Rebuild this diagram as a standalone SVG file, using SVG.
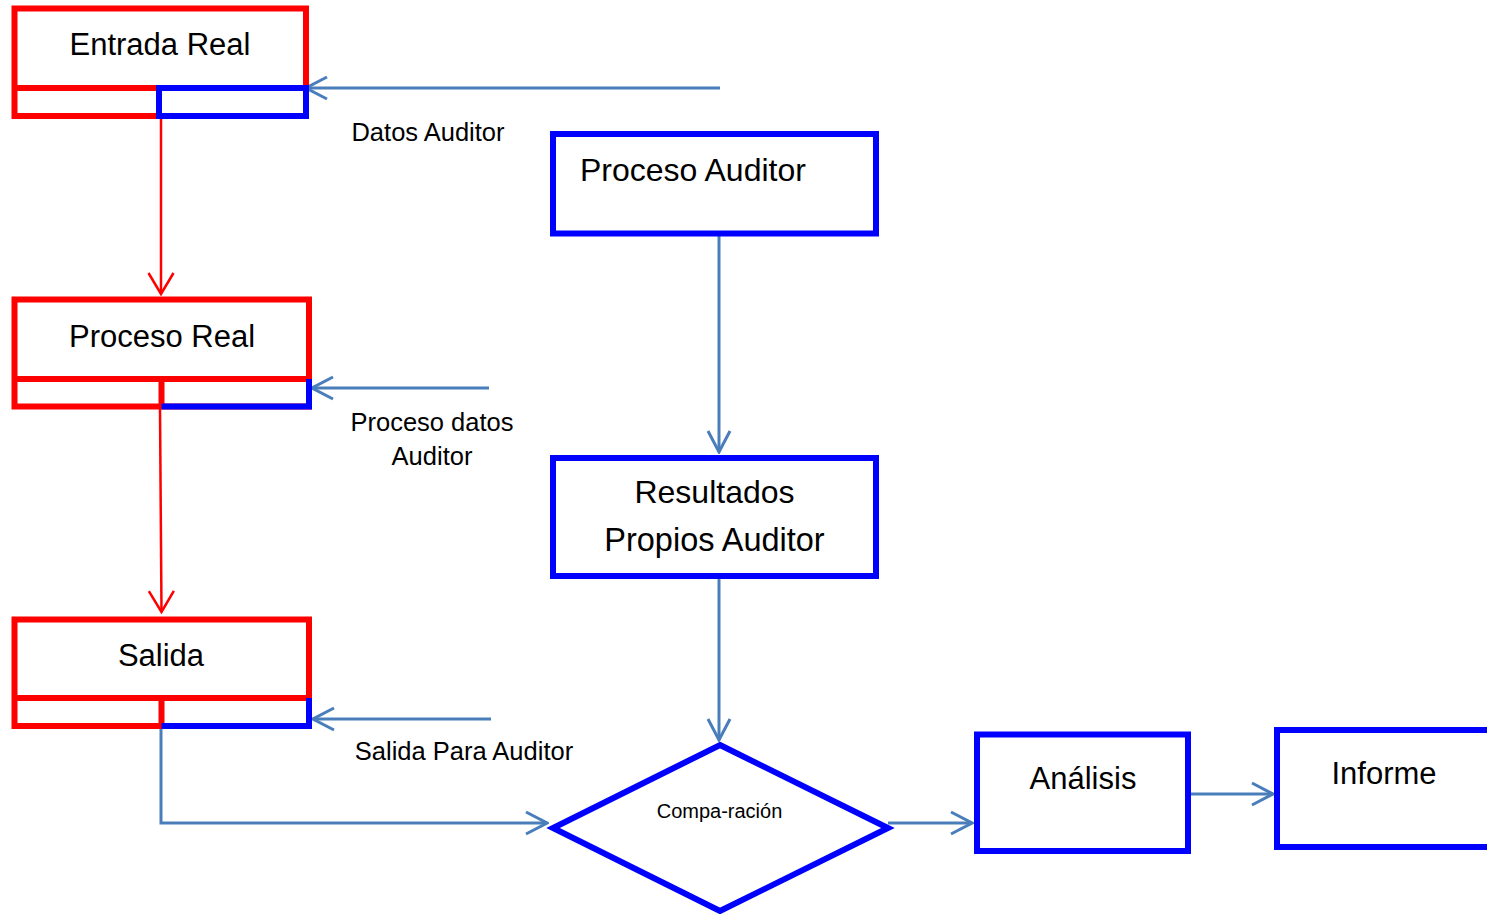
<svg xmlns="http://www.w3.org/2000/svg" width="1487" height="914" viewBox="0 0 1487 914">
<style>
.red{fill:none;stroke:#FF0000;stroke-width:6}
.blue{fill:none;stroke:#0000FF;stroke-width:6}
.bluefill{fill:#FFFFFF;stroke:#0000FF;stroke-width:6}
.con{fill:none;stroke:#4A7EBB;stroke-width:3}
.rcon{fill:none;stroke:#FF0000;stroke-width:2.5}
.big{font-family:"Liberation Sans",Arial,sans-serif;font-size:31px;fill:#000}
.lbl{font-family:"Liberation Sans",Arial,sans-serif;font-size:25.5px;fill:#000}
.sm{font-family:"Liberation Sans",Arial,sans-serif;font-size:20px;fill:#000}
</style>
<defs>
<marker id="ab" markerUnits="userSpaceOnUse" viewBox="-24 -13 26 26" refX="0" refY="0" markerWidth="26" markerHeight="26" orient="auto">
<path d="M-21,-11 L0,0 L-21,11" fill="none" stroke="#4A7EBB" stroke-width="3"/>
</marker>
<marker id="ar" markerUnits="userSpaceOnUse" viewBox="-24 -14 26 28" refX="0" refY="0" markerWidth="26" markerHeight="28" orient="auto">
<path d="M-21,-12.5 L0,0 L-21,12.5" fill="none" stroke="#FF0000" stroke-width="2.5"/>
</marker>
</defs>
<rect width="1487" height="914" fill="#FFFFFF"/>

<g id="connectors">
<line class="rcon" x1="161" y1="118" x2="161" y2="294" marker-end="url(#ar)"/>
<line class="rcon" x1="160" y1="409" x2="161.5" y2="612" marker-end="url(#ar)"/>
<line class="con" x1="720" y1="88" x2="306" y2="88" marker-end="url(#ab)"/>
<line class="con" x1="489" y1="388" x2="312" y2="388" marker-end="url(#ab)"/>
<line class="con" x1="491" y1="719" x2="313" y2="719" marker-end="url(#ab)"/>
<line class="con" x1="719" y1="236" x2="719" y2="452" marker-end="url(#ab)"/>
<line class="con" x1="719" y1="578" x2="719" y2="740" marker-end="url(#ab)"/>
<polyline class="con" points="161,729 161,823 547,823" marker-end="url(#ab)"/>
<line class="con" x1="888" y1="823" x2="972" y2="823" marker-end="url(#ab)"/>
<line class="con" x1="1190" y1="794" x2="1273" y2="794" marker-end="url(#ab)"/>
</g>

<g id="entrada-real">
<rect class="red" x="14.5" y="8.5" width="291.5" height="107.5"/>
<line class="red" x1="14.5" y1="88" x2="306" y2="88"/>
<rect class="blue" x="159" y="88" width="147" height="28"/>
<text class="big" x="160" y="55" text-anchor="middle">Entrada Real</text>
</g>

<g id="proceso-real">
<rect class="red" x="14.5" y="299.5" width="294.5" height="107"/>
<line class="red" x1="14.5" y1="379" x2="309" y2="379"/>
<line class="red" x1="161.5" y1="379" x2="161.5" y2="406.5"/>
<polyline class="blue" points="309,379 309,406.5 161.5,406.5"/>
<text class="big" x="162" y="347" text-anchor="middle">Proceso Real</text>
</g>

<g id="salida">
<rect class="red" x="14.5" y="619.5" width="294.5" height="106.5"/>
<line class="red" x1="14.5" y1="698" x2="309" y2="698"/>
<line class="red" x1="161.5" y1="698" x2="161.5" y2="726"/>
<polyline class="blue" points="309,698 309,726 161.5,726"/>
<text class="big" x="161" y="666" text-anchor="middle">Salida</text>
</g>

<g id="label-datos-auditor">
<text class="lbl" x="428" y="141" text-anchor="middle">Datos Auditor</text>
</g>
<g id="label-proceso-datos">
<text class="lbl" x="432" y="431" text-anchor="middle">Proceso datos</text>
<text class="lbl" x="432" y="465" text-anchor="middle">Auditor</text>
</g>
<g id="label-salida-para">
<text class="lbl" x="464" y="760" text-anchor="middle">Salida Para Auditor</text>
</g>

<g id="proceso-auditor">
<rect class="bluefill" x="553" y="134" width="323" height="99.5"/>
<text class="big" x="580" y="181" style="font-size:32px">Proceso Auditor</text>
</g>

<g id="resultados">
<rect class="bluefill" x="553" y="458" width="323" height="118"/>
<text class="big" x="714.5" y="503" text-anchor="middle" style="font-size:32px">Resultados</text>
<text class="big" x="714.5" y="551" text-anchor="middle" style="font-size:32.5px">Propios Auditor</text>
</g>

<g id="comparacion">
<polygon class="bluefill" points="720,745 888,828 720,911 553,828"/>
<text class="sm" x="719.5" y="818" text-anchor="middle">Compa-ración</text>
</g>

<g id="analisis">
<rect class="bluefill" x="977" y="734.5" width="211" height="116.5"/>
<text class="big" x="1083" y="789" text-anchor="middle">Análisis</text>
</g>

<g id="informe">
<rect class="bluefill" x="1277" y="730" width="230" height="117"/>
<text class="big" x="1384" y="784" text-anchor="middle">Informe</text>
</g>
</svg>
